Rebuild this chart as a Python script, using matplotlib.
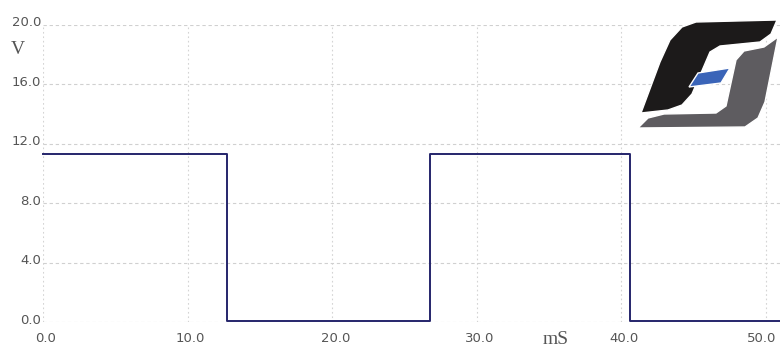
import numpy as np
import matplotlib.pyplot as plt
from matplotlib.patches import Polygon

# square wave (time in mS, level in V)
edge_times = [0.0, 12.75, 26.8, 40.65, 51.0]
levels = [11.3, 0.05, 11.3, 0.05, 0.05]
x_ticks = [0, 10, 20, 30, 40, 50]
y_ticks = [0, 4, 8, 12, 16, 20]

W, H = 780, 352


def fx(px):
	return px / W


def fy(py):
	return 1 - py / H


fig = plt.figure(figsize=(7.8, 3.52), dpi=100)
ax = fig.add_axes([fx(43), fy(322), fx(780) - fx(43), fy(25) - fy(322)])
ax.set_xlim(0, 51)
ax.set_ylim(0, 20)

ax.step(edge_times, levels, where='post', color='#25256b', lw=1.4, clip_on=False, zorder=3)

for s in ax.spines.values():
	s.set_visible(False)
for xv in x_ticks:
	ax.axvline(xv, color='#d4d4d4', lw=0.8, ls=(0, (1.5, 2.5)), zorder=1)
for yv in y_ticks:
	ax.axhline(yv, color='#d0d0d0', lw=0.8, ls=(0, (3, 2.5)), zorder=1)

ax.set_xticks([])
ax.set_yticks([])
tick_font = dict(family=['Liberation Sans Narrow', 'DejaVu Sans'], size=9.5, color='#555555')
for yv in y_ticks:
	fig.text(fx(41), fy(322 - yv * 297 / 20 - 2), '%.1f' % yv, ha='right', va='center', **tick_font)
for xv in x_ticks:
	xp = min(46 + xv * 14.46, 762)
	fig.text(fx(xp), fy(338), '%.1f' % xv, ha='center', va='center', **tick_font)

fig.text(fx(18), fy(50), 'V', ha='center', va='center', family='Liberation Serif', size=14, color='#555555')
fig.text(fx(556), fy(340), 'mS', ha='center', va='center', family='Liberation Serif', size=14, color='#555555')

# logo, upper right
black = [(641, 113), (660, 62), (670, 40), (682, 27), (696, 22), (777, 20), (771, 34), (760, 42),
	(720, 46), (710, 52), (692, 94), (682, 105), (668, 110)]
grey = [(778, 37), (765, 102), (758, 118), (745, 127), (638, 128), (648, 118), (664, 114),
	(716, 113), (726, 106), (736, 60), (744, 51), (764, 47)]
blue = [(689, 87), (698, 73), (730, 68), (721, 83)]
for pts, col in [(black, '#1c1a1a'), (grey, '#5e5c60'), (blue, '#3a64b8')]:
	fig.add_artist(Polygon([(fx(a), fy(b)) for a, b in pts], closed=True,
		transform=fig.transFigure, facecolor=col, edgecolor='white', lw=1))

fig.savefig('out.png', dpi=100)
